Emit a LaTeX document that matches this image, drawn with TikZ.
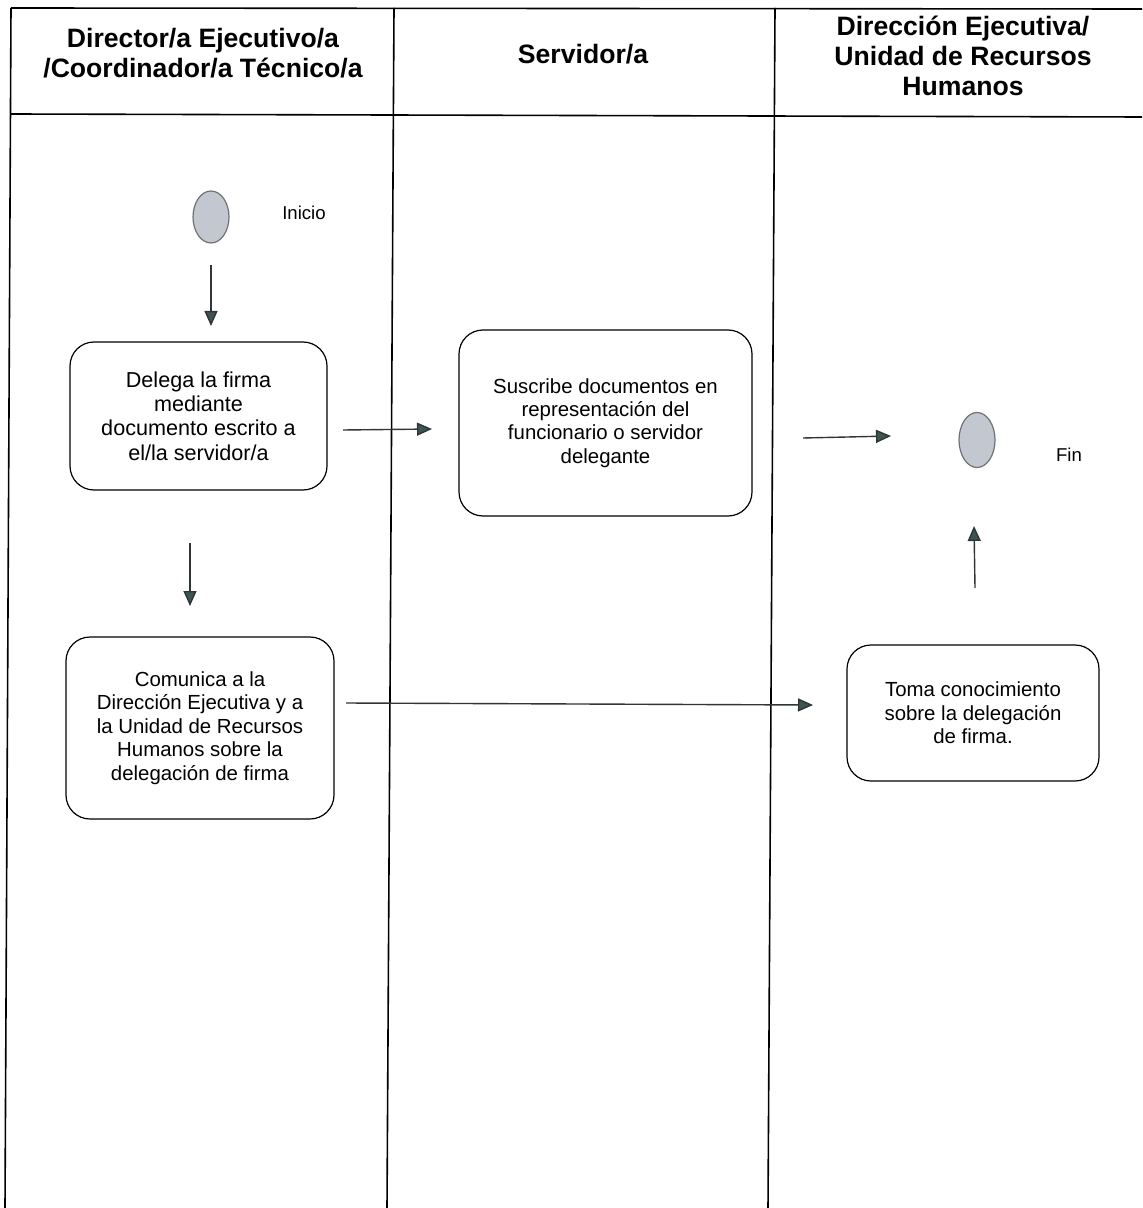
\documentclass[tikz,border=0pt]{standalone}
\usepackage{fontspec}
\setmainfont{Liberation Sans}
\usetikzlibrary{arrows.meta,shapes.geometric}
\definecolor{linec}{HTML}{303636}
\definecolor{tipc}{HTML}{3C5552}
\definecolor{ovalfill}{HTML}{C3C8D0}
\definecolor{ovaldraw}{HTML}{6E7276}
\tikzset{
  lane/.style={draw=black, line width=0.8pt},
  actbox/.style={draw=black, line width=0.6pt, rounded corners=12pt, align=center,
    font=\fontsize{10.2}{11.7}\selectfont, inner sep=0pt},
  terminal/.style={ellipse, draw=ovaldraw, fill=ovalfill, line width=0.6pt,
    minimum width=18pt, minimum height=26pt, inner sep=0pt},
  hdr/.style={align=center, font=\bfseries\fontsize{13.3}{15}\selectfont},
  lbl/.style={font=\fontsize{9.3}{11}\selectfont},
  flow/.style={draw=linec, line width=0.7pt,
    -{Triangle[width=6.5pt,length=7.5pt,fill=tipc]}}
}
\begin{document}
\begin{tikzpicture}[x=0.5pt,y=-0.5pt]
\useasboundingbox (0,0) rectangle (1142,1208);
\fill[white] (0,0) rectangle (1142,1208);
% lanes
\draw[lane] (11,8) -- (1142,9);
\draw[lane] (11,114) -- (1142,117);
\draw[lane] (11,8) -- (5,1208);
\draw[lane] (394,8) -- (387,1208);
\draw[lane] (775,8) -- (768,1208);
% headers
\node[hdr] (h1) at (203,53) {Director/a Ejecutivo/a\\/Coordinador/a Técnico/a};
\node[hdr] (h2) at (583,54) {Servidor/a};
\node[hdr] (h3) at (963,56) {Dirección Ejecutiva/\\Unidad de Recursos\\Humanos};
% nodes
\node[terminal] (ini) at (211,217) {};
\node[lbl] (inil) at (304,213) {Inicio};
\node[terminal, minimum height=27.5pt] (fin) at (977,440) {};
\node[lbl] (finl) at (1069,455) {Fin};
\node[actbox, font=\fontsize{10.8}{12.2}\selectfont, minimum width=128.5pt, minimum height=74pt] (b1) at (198.5,416)
  {Delega la firma\\mediante\\documento escrito a\\el/la servidor/a};
\node[actbox, minimum width=146.5pt, minimum height=93pt] (b2) at (605.5,423)
  {Suscribe documentos en\\representación del\\funcionario o servidor\\delegante};
\node[actbox, minimum width=134pt, minimum height=91pt] (b3) at (200,728)
  {Comunica a la\\Dirección Ejecutiva y a\\la Unidad de Recursos\\Humanos sobre la\\delegación de firma};
\node[actbox, minimum width=126pt, minimum height=68pt] (b4) at (973,713)
  {Toma conocimiento\\sobre la delegación\\de firma.};
% arrow end coordinates
\coordinate (a1s) at (211,265); \coordinate (a1e) at (211,326);
\coordinate (a2s) at (343,430); \coordinate (a2e) at (432,429);
\coordinate (a3s) at (190,543); \coordinate (a3e) at (190,606);
\coordinate (a4s) at (803,438); \coordinate (a4e) at (891,436);
\coordinate (a5s) at (346,703); \coordinate (a5e) at (813,705);
\coordinate (a6s) at (975,588); \coordinate (a6e) at (974,526);
\draw[flow] (a1s) -- (a1e);
\draw[flow] (a2s) -- (a2e);
\draw[flow] (a3s) -- (a3e);
\draw[flow] (a4s) -- (a4e);
\draw[flow] (a5s) -- (a5e);
\draw[flow] (a6s) -- (a6e);
\end{tikzpicture}
\end{document}
